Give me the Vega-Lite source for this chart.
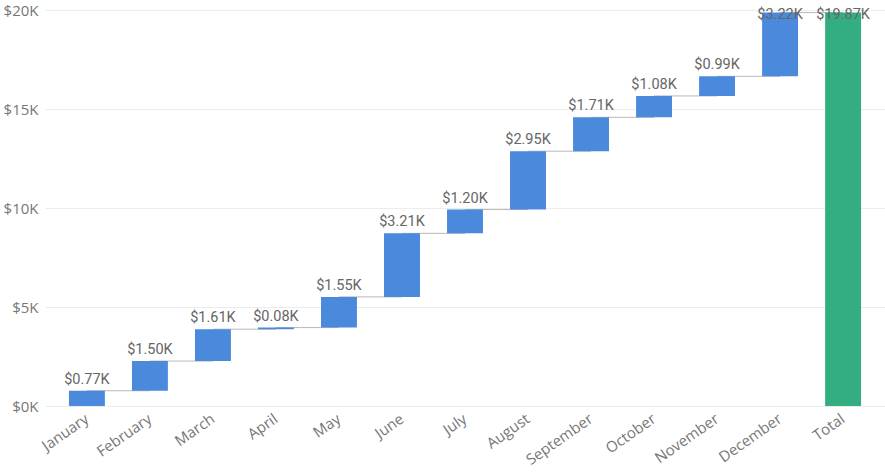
{
  "$schema": "https://vega.github.io/schema/vega-lite/v6.json",
  "width": 840,
  "height": 396,
  "autosize": {"type": "none"},
  "padding": {"left": 45, "top": 10, "right": 0, "bottom": 69},
  "background": "white",
  "config": {
    "view": {"stroke": null},
    "font": "Open Sans"
  },
  "data": {
    "values": [
      {"month": "January", "next": "February", "amount": 0.77, "start": 0, "end": 0.77, "kind": "step"},
      {"month": "February", "next": "March", "amount": 1.50, "start": 0.77, "end": 2.27, "kind": "step"},
      {"month": "March", "next": "April", "amount": 1.61, "start": 2.27, "end": 3.88, "kind": "step"},
      {"month": "April", "next": "May", "amount": 0.08, "start": 3.88, "end": 3.96, "kind": "step"},
      {"month": "May", "next": "June", "amount": 1.55, "start": 3.96, "end": 5.51, "kind": "step"},
      {"month": "June", "next": "July", "amount": 3.21, "start": 5.51, "end": 8.72, "kind": "step"},
      {"month": "July", "next": "August", "amount": 1.20, "start": 8.72, "end": 9.92, "kind": "step"},
      {"month": "August", "next": "September", "amount": 2.95, "start": 9.92, "end": 12.87, "kind": "step"},
      {"month": "September", "next": "October", "amount": 1.71, "start": 12.87, "end": 14.58, "kind": "step"},
      {"month": "October", "next": "November", "amount": 1.08, "start": 14.58, "end": 15.66, "kind": "step"},
      {"month": "November", "next": "December", "amount": 0.99, "start": 15.66, "end": 16.65, "kind": "step"},
      {"month": "December", "next": "Total", "amount": 3.22, "start": 16.65, "end": 19.87, "kind": "step"},
      {"month": "Total", "next": null, "amount": 19.87, "start": 0, "end": 19.87, "kind": "total"}
    ]
  },
  "transform": [
    {"calculate": "'$' + format(datum.amount, '.2f') + 'K'", "as": "label"},
    {"calculate": "min(datum.end, 19.2)", "as": "labelY"}
  ],
  "encoding": {
    "x": {
      "field": "month",
      "type": "nominal",
      "sort": ["January","February","March","April","May","June","July","August","September","October","November","December","Total"],
      "scale": {"paddingInner": 0.43, "paddingOuter": 0.38},
      "axis": {
        "title": null,
        "labelAngle": -35,
        "labelFontSize": 15,
        "labelColor": "#777777",
        "labelFont": "Open Sans",
        "ticks": false,
        "domain": false,
        "labelPadding": 5,
        "labelOffset": -4
      }
    }
  },
  "layer": [
    {
      "transform": [{"filter": "datum.next != null"}],
      "mark": {"type": "rule", "color": "#b8b8b8", "strokeWidth": 1},
      "encoding": {
        "x2": {"field": "next"},
        "y": {"field": "end", "type": "quantitative"}
      }
    },
    {
      "mark": {"type": "bar"},
      "encoding": {
        "y": {
          "field": "start",
          "type": "quantitative",
          "scale": {"domain": [0, 20]},
          "axis": {
            "title": null,
            "values": [0, 5, 10, 15, 20],
            "labelExpr": "'$' + datum.value + 'K'",
            "labelFontSize": 15,
            "labelColor": "#777777",
            "labelPadding": 7,
            "ticks": false,
            "domain": false,
            "gridColor": "#ececec",
            "gridWidth": 1
          }
        },
        "y2": {"field": "end"},
        "color": {
          "field": "kind",
          "type": "nominal",
          "scale": {"domain": ["step", "total"], "range": ["#4a89dc", "#33ae81"]},
          "legend": null
        }
      }
    },
    {
      "mark": {"type": "text", "baseline": "middle", "dy": -11, "fontSize": 14.5, "font": "Roboto", "color": "#666666"},
      "encoding": {
        "y": {"field": "labelY", "type": "quantitative"},
        "text": {"field": "label"}
      }
    }
  ]
}
